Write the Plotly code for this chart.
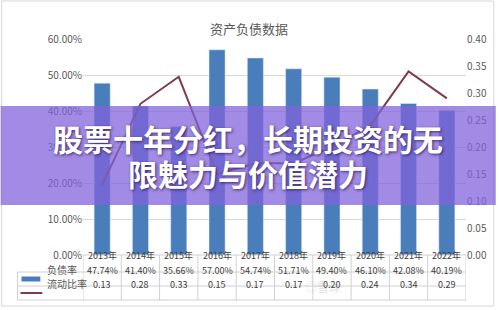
import plotly.graph_objects as go

years = ["2013", "2014", "2015", "2016", "2017", "2018", "2019", "2020", "2021", "2022"]
year_labels = [y + "年" for y in years]
debt_ratio = [47.74, 41.40, 35.66, 57.00, 54.74, 51.71, 49.40, 46.10, 42.08, 40.19]
current_ratio = [0.13, 0.28, 0.33, 0.15, 0.17, 0.17, 0.20, 0.24, 0.34, 0.29]
chart_title = "资产负债数据"
series_names = ["负债率", "流动比率"]
banner_lines = ["股票十年分红，长期投资的无", "限魅力与价值潜力"]
watermark = "◎雪球"

W, H = 499, 310
L, R, T, B = 83, 30, 39, 55
PW, PH = W - L - R, H - T - B

def px(x):
    return (x - L) / PW

def py(y):
    return (H - B - y) / PH

BAR = "#4a7ebb"
LINE = "#7d3c4c"
GRID = "#d9d9d9"
TXT = "#595959"
FONT = "Noto Sans CJK SC"

fig = go.Figure()
fig.add_trace(go.Bar(x=years, y=[v / 100 for v in debt_ratio], marker_color=BAR,
                     name=series_names[0], width=0.42))
fig.add_trace(go.Scatter(x=years, y=current_ratio, mode="lines", yaxis="y2",
                         line=dict(color=LINE, width=2), name=series_names[1]))

shapes = []
annotations = []

# title
annotations.append(dict(x=px(250), y=py(17), xref="paper", yref="paper", text=chart_title,
                        showarrow=False, font=dict(family=FONT, size=13, color=TXT)))

# table lines
tbl_col = "#d0d0d0"
for yy in [255, 272, 286, 300]:
    x0 = px(83) if yy == 255 else px(17)
    shapes.append(dict(type="line", xref="paper", yref="paper", x0=x0, x1=1, y0=py(yy), y1=py(yy),
                       line=dict(color=tbl_col, width=1)))
for i in range(len(years) + 1):
    shapes.append(dict(type="line", xref="x", yref="paper", x0=i - 0.5, x1=i - 0.5,
                       y0=py(255), y1=py(300), line=dict(color=tbl_col, width=1)))
shapes.append(dict(type="line", xref="paper", yref="paper", x0=px(17), x1=px(17),
                   y0=py(272), y1=py(300), line=dict(color=tbl_col, width=1)))

# table text
cell_font = dict(family=FONT, size=9, color="#404040")
for i, yl in enumerate(year_labels):
    annotations.append(dict(x=i, y=py(264), xref="x", yref="paper", text=yl, showarrow=False,
                            font=cell_font))
    annotations.append(dict(x=i, y=py(279), xref="x", yref="paper",
                            text=f"{debt_ratio[i]:.2f}%", showarrow=False, font=cell_font))
    annotations.append(dict(x=i, y=py(293), xref="x", yref="paper",
                            text=f"{current_ratio[i]:.2f}", showarrow=False, font=cell_font))

# legend in table
shapes.append(dict(type="rect", xref="paper", yref="paper", x0=px(21), x1=px(40), y0=py(281.5), y1=py(276.5),
                   fillcolor=BAR, line=dict(width=0)))
shapes.append(dict(type="line", xref="paper", yref="paper", x0=px(20), x1=px(42), y0=py(293), y1=py(293),
                   line=dict(color=LINE, width=2)))
annotations.append(dict(x=px(45), y=py(279), xref="paper", yref="paper", text=series_names[0],
                        xanchor="left", showarrow=False, font=dict(family=FONT, size=10, color=TXT)))
annotations.append(dict(x=px(45), y=py(293), xref="paper", yref="paper", text=series_names[1],
                        xanchor="left", showarrow=False, font=dict(family=FONT, size=10, color=TXT)))

# watermark
annotations.append(dict(x=px(345), y=py(297), xref="paper", yref="paper", text=watermark,
                        showarrow=False, font=dict(family=FONT, size=12, color="rgba(150,150,150,0.3)")))

# outer frame
shapes.append(dict(type="rect", xref="paper", yref="paper", x0=px(1), x1=px(497), y0=py(306), y1=py(1),
                   line=dict(color="#d6d6d6", width=1), fillcolor="rgba(0,0,0,0)", layer="below"))

# banner
shapes.append(dict(type="rect", xref="paper", yref="paper", x0=px(0), x1=px(499), y0=py(205), y1=py(106),
                   fillcolor="rgba(128,98,220,0.74)", line=dict(width=0), layer="above"))
for txt, yy in zip(banner_lines, [138, 173]):
    annotations.append(dict(x=px(249), y=py(yy), xref="paper", yref="paper", text=f"<b>{txt}</b>",
                            showarrow=False,
                            font=dict(family=FONT, size=30, color="white",
                                      shadow="1px 1px 3px rgba(40,20,80,0.8)")))

fig.update_layout(
    width=W, height=H,
    margin=dict(l=L, r=R, t=T, b=B),
    paper_bgcolor="white", plot_bgcolor="white",
    showlegend=False,
    bargap=0.58,
    xaxis=dict(type="category", range=[-0.5, 9.5], showticklabels=False, showgrid=False,
               zeroline=False, showline=False, ticks=""),
    yaxis=dict(range=[0, 0.6], dtick=0.1, tickformat=".2%", showgrid=True, gridcolor=GRID,
               zeroline=False, ticks="", tickfont=dict(family=FONT, size=10, color=TXT)),
    yaxis2=dict(range=[0, 0.4], dtick=0.05, tickformat=".2f", overlaying="y", side="right",
                showgrid=False, zeroline=False, ticks="",
                tickfont=dict(family=FONT, size=10, color=TXT)),
    shapes=shapes,
    annotations=annotations,
)

fig.write_html("out.html")
